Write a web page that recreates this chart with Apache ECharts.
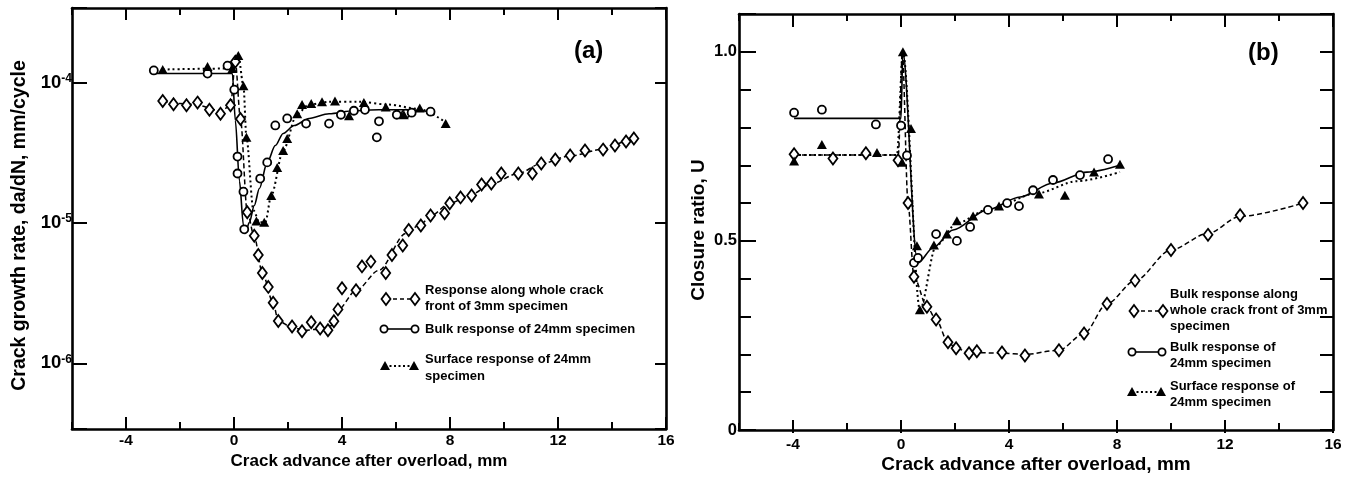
<!DOCTYPE html>
<html>
<head>
<meta charset="utf-8">
<script src="https://cdn.jsdelivr.net/npm/echarts@6/dist/echarts.min.js"></script>
<style>
html,body{margin:0;padding:0;background:#fff;}
#chart{width:1351px;height:479px;}
</style>
</head>
<body>
<div id="chart"></div>
<script>
// ---------- Panel (a): crack growth rate ----------
const a3mmX = [-2.64,-2.24,-1.76,-1.35,-0.91,-0.50,-0.13,0.05,0.24,0.49,0.75,0.90,1.05,1.27,1.45,1.64,2.15,2.52,2.86,3.19,3.48,3.70,3.85,4.00,4.52,4.74,5.07,5.62,5.85,6.25,6.47,6.92,7.28,7.80,7.99,8.39,8.80,9.17,9.53,9.90,10.53,11.05,11.38,11.90,12.45,13.00,13.67,14.11,14.52,14.81];
const a3mmY = [7.4e-5,7.0e-5,6.9e-5,7.2e-5,6.4e-5,6.0e-5,6.9e-5,1.41e-4,5.5e-5,1.19e-5,8.1e-6,5.9e-6,4.4e-6,3.5e-6,2.7e-6,2.0e-6,1.83e-6,1.69e-6,1.96e-6,1.77e-6,1.72e-6,1.99e-6,2.42e-6,3.42e-6,3.31e-6,4.9e-6,5.3e-6,4.4e-6,5.9e-6,6.9e-6,8.9e-6,9.6e-6,1.13e-5,1.17e-5,1.38e-5,1.52e-5,1.57e-5,1.88e-5,1.91e-5,2.25e-5,2.25e-5,2.25e-5,2.65e-5,2.83e-5,3.02e-5,3.28e-5,3.33e-5,3.56e-5,3.80e-5,4.0e-5];
const a3mmFitX = [-2.64,-1.5,-0.5,-0.13,0.05,0.24,0.49,0.75,1.05,1.45,1.64,2.15,2.6,3.2,3.6,3.85,4.52,5.37,6.36,6.92,7.28,7.99,8.80,9.53,10.53,11.38,12.45,13.67,14.52,14.81];
const a3mmFitY = [7.3e-5,7.0e-5,6.3e-5,6.8e-5,1.4e-4,5.5e-5,1.2e-5,8.0e-6,4.4e-6,2.7e-6,2.0e-6,1.8e-6,1.72e-6,1.75e-6,1.85e-6,2.4e-6,3.3e-6,4.6e-6,8.4e-6,9.8e-6,1.12e-5,1.38e-5,1.6e-5,1.9e-5,2.25e-5,2.65e-5,3.0e-5,3.35e-5,3.8e-5,4.0e-5];

const aBulkX = [-2.97,-0.98,-0.24,0.01,0.13,0.13,0.35,0.38,0.97,1.23,1.53,1.97,2.67,3.52,3.96,4.44,4.85,5.29,5.37,6.03,6.36,6.58,7.28];
const aBulkY = [1.22e-4,1.16e-4,1.32e-4,8.9e-5,2.97e-5,2.25e-5,1.67e-5,9.0e-6,2.07e-5,2.70e-5,4.95e-5,5.55e-5,5.1e-5,5.1e-5,5.9e-5,6.3e-5,6.4e-5,4.07e-5,5.3e-5,5.9e-5,6.0e-5,6.1e-5,6.2e-5];
const aBulkFitX = [-2.97,-0.06,0.05,0.20,0.35,0.42,0.57,0.75,0.94,1.23,1.53,1.82,2.23,2.78,3.52,4.44,5.37,6.29,7.28];
const aBulkFitY = [1.16e-4,1.16e-4,5.37e-5,2.0e-5,9.6e-6,8.4e-6,1.01e-5,1.33e-5,1.76e-5,2.70e-5,3.56e-5,4.34e-5,4.94e-5,5.55e-5,6.0e-5,6.3e-5,6.4e-5,6.4e-5,6.2e-5];

const aSurfX = [-2.64,-0.98,-0.06,0.16,0.35,0.46,0.83,1.12,1.38,1.60,1.82,1.97,2.34,2.52,2.86,3.26,3.74,4.26,4.81,5.62,6.29,6.88,7.84];
const aSurfY = [1.24e-4,1.30e-4,1.26e-4,1.56e-4,9.5e-5,4.07e-5,1.03e-5,1.01e-5,1.57e-5,2.48e-5,3.28e-5,4.0e-5,6.0e-5,6.97e-5,7.1e-5,7.3e-5,7.4e-5,5.8e-5,7.2e-5,6.7e-5,5.9e-5,6.6e-5,5.1e-5];
const aSurfFitX = [-2.64,-0.06,0.16,0.35,0.46,0.72,0.94,1.16,1.38,1.82,2.34,2.78,3.52,4.63,5.73,6.84,7.84];
const aSurfFitY = [1.24e-4,1.26e-4,1.56e-4,9.5e-5,4.07e-5,1.23e-5,1.01e-5,1.01e-5,1.57e-5,3.28e-5,6.0e-5,6.97e-5,7.3e-5,7.3e-5,6.97e-5,6.5e-5,5.2e-5];

// ---------- Panel (b): closure ratio ----------
const b3mmX = [-3.96,-2.52,-1.30,-0.11,0.26,0.48,0.96,1.30,1.74,2.04,2.52,2.81,3.74,4.59,5.85,6.78,7.63,8.67,10.00,11.37,12.56,14.89];
const b3mmY = [0.729,0.718,0.732,0.713,0.600,0.405,0.326,0.292,0.232,0.216,0.203,0.208,0.205,0.197,0.211,0.255,0.334,0.395,0.476,0.516,0.568,0.600];
const b3mmFitX = [-3.96,-0.1,0.05,0.26,0.48,0.96,1.30,1.74,2.04,2.52,3.74,4.59,5.85,6.78,7.63,8.67,10.00,11.37,12.56,14.89];
const b3mmFitY = [0.727,0.727,1.0,0.60,0.405,0.326,0.292,0.232,0.216,0.205,0.203,0.200,0.211,0.255,0.334,0.395,0.476,0.520,0.565,0.600];

const bBulkX = [-3.96,-2.93,-0.93,0.00,0.22,0.48,0.63,1.30,2.07,2.56,3.22,3.93,4.37,4.89,5.63,6.63,7.67];
const bBulkY = [0.839,0.847,0.808,0.805,0.726,0.442,0.455,0.518,0.500,0.537,0.582,0.600,0.592,0.634,0.661,0.674,0.716];
const bBulkFitX = [-3.96,0.0,0.07,0.59,0.63,1.19,1.93,3.19,4.41,5.63,6.89,8.11];
const bBulkFitY = [0.824,0.824,1.0,0.455,0.442,0.482,0.529,0.582,0.616,0.653,0.682,0.700];

const bSurfX = [-3.96,-2.93,-0.89,0.04,0.07,0.37,0.59,0.70,1.22,1.70,2.07,2.67,3.63,5.11,6.07,7.15,8.11];
const bSurfY = [0.711,0.755,0.734,0.708,1.0,0.797,0.487,0.318,0.489,0.518,0.553,0.566,0.592,0.624,0.621,0.682,0.703];
const bSurfFitX = [-3.96,-0.15,0.07,0.70,1.30,2.07,3.19,5.04,6.52,8.11];
const bSurfFitY = [0.727,0.727,1.0,0.318,0.487,0.547,0.582,0.626,0.658,0.682];

// ---------- axis / text ----------
const xMin = -6, xMax = 16, xMajorMin = -4;
const aYMin = 3.4e-7, aYMax = 3.4e-4;
const bYMin = 0, bYMax = 1.1;
const xTitle = 'Crack advance after overload, mm';
const aYTitle = 'Crack growth rate, da/dN, mm/cycle';
const bYTitle = 'Closure ratio, U';
const aLegend = ['Response along whole crack\nfront of 3mm specimen', 'Bulk response of 24mm specimen', 'Surface response of 24mm\nspecimen'];
const bLegend = ['Bulk response along\nwhole crack front of 3mm\nspecimen', 'Bulk response of\n24mm specimen', 'Surface response of\n24mm specimen'];

const FONT = 'Liberation Sans';
const zip = (xs, ys) => xs.map((x, i) => [x, ys[i]]);

const frame = {show: true, onZero: false, lineStyle: {color: '#000', width: 2.6}};
function xAx(grid, pos, min, interval, tickLen, labels, extra) {
  return Object.assign({
    type: 'value', gridIndex: grid, position: pos, min: min, max: xMax, interval: interval,
    axisLine: frame,
    axisTick: {show: true, inside: true, length: tickLen, lineStyle: {color: '#000', width: 2}},
    axisLabel: labels ? {show: true, color: '#000', fontFamily: FONT, fontWeight: 'bold', fontSize: 15.5, margin: 4} : {show: false},
    splitLine: {show: false}
  }, extra || {});
}
function logLabel(v) {
  const e = Math.log10(v), r = Math.round(e);
  if (Math.abs(e - r) > 1e-6) return '';
  return '{b|10}{s|' + r + '}';
}

const series = [];
function addSet(xi, yi, fitX, fitY, markX, markY, lineType, lineW, symbol, size, filled) {
  series.push({type: 'line', xAxisIndex: xi, yAxisIndex: yi, data: zip(fitX, fitY), showSymbol: false, smooth: 0.3, smoothMonotone: 'x',
    lineStyle: {color: '#000', width: lineW, type: lineType}, z: 2, silent: true});
  series.push({type: 'scatter', xAxisIndex: xi, yAxisIndex: yi, data: zip(markX, markY), symbol: symbol, symbolSize: size,
    itemStyle: {color: filled ? '#000' : '#fff', borderColor: '#000', borderWidth: filled ? 0 : 1.8, opacity: 1}, z: filled ? 4 : 3, silent: true});
}
addSet(0, 0, a3mmFitX, a3mmFitY, a3mmX, a3mmY, [5, 3], 1.5, 'diamond', [9, 12], false);
addSet(0, 0, aBulkFitX, aBulkFitY, aBulkX, aBulkY, 'solid', 1.6, 'circle', 8, false);
addSet(0, 0, aSurfFitX, aSurfFitY, aSurfX, aSurfY, [2, 3], 2, 'triangle', [10, 9], true);
addSet(4, 3, b3mmFitX, b3mmFitY, b3mmX, b3mmY, [5, 3], 1.5, 'diamond', [9, 12], false);
addSet(4, 3, bBulkFitX, bBulkFitY, bBulkX, bBulkY, 'solid', 1.6, 'circle', 8, false);
addSet(4, 3, bSurfFitX, bSurfFitY, bSurfX, bSurfY, [2, 3], 2, 'triangle', [10, 9], true);

// legend graphics
function legendEntry(kind, x1, x2, y, dash) {
  const els = [{type: 'line', shape: {x1: x1, y1: y, x2: x2, y2: y}, style: {stroke: '#000', lineWidth: kind === 'tri' ? 2 : 1.6, lineDash: dash}, z: 10}];
  [x1, x2].forEach(x => {
    if (kind === 'dia') els.push({type: 'polygon', shape: {points: [[x, y - 6], [x + 4.5, y], [x, y + 6], [x - 4.5, y]]}, style: {fill: '#fff', stroke: '#000', lineWidth: 1.8}, z: 11});
    if (kind === 'cir') els.push({type: 'circle', shape: {cx: x, cy: y, r: 3.6}, style: {fill: '#fff', stroke: '#000', lineWidth: 1.8}, z: 11});
    if (kind === 'tri') els.push({type: 'polygon', shape: {points: [[x, y - 5], [x + 5, y + 4], [x - 5, y + 4]]}, style: {fill: '#000'}, z: 11});
  });
  return els;
}
function txt(text, x, y, size, lh) {
  return {type: 'text', x: x, y: y, z: 12, style: {text: text, fill: '#000', fontFamily: FONT, fontWeight: 'bold', fontSize: size, lineHeight: lh || size, align: 'left', verticalAlign: 'top'}};
}
const graphic = [].concat(
  legendEntry('dia', 386, 415, 299, [4, 3]),
  legendEntry('cir', 384, 415, 329, null),
  legendEntry('tri', 385, 414, 366, [2, 2.5]),
  [txt(aLegend[0], 425, 282, 13, 16), txt(aLegend[1], 425, 321, 13, 16), txt(aLegend[2], 425, 351, 13, 17)],
  legendEntry('dia', 1134, 1163, 311, [4, 3]),
  legendEntry('cir', 1132, 1162, 352, null),
  legendEntry('tri', 1132, 1161, 392, [2, 2.5]),
  [txt(bLegend[0], 1170, 286, 13, 16), txt(bLegend[1], 1170, 339, 13, 16), txt(bLegend[2], 1170, 378, 13, 16)],
  [txt('(a)', 574, 38, 24, 26), txt('(b)', 1248, 40, 24, 26)]
);

const noLine = {axisLine: {show: false, onZero: false}};
const option = {
  backgroundColor: '#fff',
  animation: false,
  grid: [
    {left: 72, top: 8, width: 594, height: 421},
    {left: 126, top: 8, width: 540, height: 421},
    {left: 739, top: 14, width: 594, height: 419},
    {left: 793, top: 14, width: 540, height: 419}
  ],
  xAxis: [
    xAx(0, 'bottom', xMin, 2, 7, false, {name: xTitle, nameLocation: 'middle', nameGap: 24, nameTextStyle: {color: '#000', fontFamily: FONT, fontWeight: 'bold', fontSize: 17}}),
    xAx(0, 'top', xMin, 2, 7, false),
    xAx(1, 'bottom', xMajorMin, 4, 12, true, noLine),
    xAx(1, 'top', xMajorMin, 4, 12, false, noLine),
    xAx(2, 'bottom', xMin, 2, 7, false, {name: xTitle, nameLocation: 'middle', nameGap: 25, nameTextStyle: {color: '#000', fontFamily: FONT, fontWeight: 'bold', fontSize: 19}}),
    xAx(2, 'top', xMin, 2, 7, false),
    xAx(3, 'bottom', xMajorMin, 4, 13, true, noLine),
    xAx(3, 'top', xMajorMin, 4, 13, false, noLine)
  ],
  yAxis: [
    {type: 'log', logBase: 10, gridIndex: 0, position: 'left', min: aYMin, max: aYMax,
      axisLine: frame, splitLine: {show: false},
      axisTick: {show: true, inside: true, length: 15, lineStyle: {color: '#000', width: 2}},
      axisLabel: {show: true, margin: 0, formatter: logLabel,
        rich: {b: {fontFamily: FONT, fontWeight: 'bold', fontSize: 18.5, color: '#000', lineHeight: 20},
               s: {fontFamily: FONT, fontWeight: 'bold', fontSize: 12, color: '#000', lineHeight: 12, verticalAlign: 'top'}}},
      name: aYTitle, nameLocation: 'middle', nameGap: 42, nameRotate: 90,
      nameTextStyle: {color: '#000', fontFamily: FONT, fontWeight: 'bold', fontSize: 19.5, padding: [0, 14, 0, 0]}},
    {type: 'log', logBase: 10, gridIndex: 0, position: 'right', min: aYMin, max: aYMax,
      axisLine: frame, splitLine: {show: false}, axisLabel: {show: false},
      axisTick: {show: true, inside: true, length: 11, lineStyle: {color: '#000', width: 2}}},
    {type: 'value', gridIndex: 1, min: 0, max: 1, show: false},
    {type: 'value', gridIndex: 2, position: 'left', min: bYMin, max: bYMax, interval: 0.1,
      axisLine: frame, splitLine: {show: false}, axisLabel: {show: false},
      axisTick: {show: true, inside: true, length: 12, lineStyle: {color: '#000', width: 2}},
      name: bYTitle, nameLocation: 'middle', nameGap: 31, nameRotate: 90,
      nameTextStyle: {color: '#000', fontFamily: FONT, fontWeight: 'bold', fontSize: 19, padding: [0, 16, 0, 0]}},
    {type: 'value', gridIndex: 2, position: 'right', min: bYMin, max: bYMax, interval: 0.1,
      axisLine: frame, splitLine: {show: false}, axisLabel: {show: false},
      axisTick: {show: true, inside: true, length: 13, lineStyle: {color: '#000', width: 2}}},
    {type: 'value', gridIndex: 2, position: 'left', offset: 0, min: bYMin, max: bYMax, interval: 0.5,
      axisLine: {show: false, onZero: false}, splitLine: {show: false},
      axisTick: {show: true, inside: true, length: 17, lineStyle: {color: '#000', width: 2}},
      axisLabel: {show: true, margin: 2, color: '#000', fontFamily: FONT, fontWeight: 'bold', fontSize: 16.5,
        formatter: v => (Math.abs(v) < 1e-9 ? '0' : (Math.abs(v * 2 - Math.round(v * 2)) < 1e-6 ? v.toFixed(1) : ''))}},
    {type: 'value', gridIndex: 3, min: 0, max: 1, show: false}
  ],
  series: series,
  graphic: graphic
};
const chart = echarts.init(document.getElementById('chart'));
chart.setOption(option);
</script>
</body>
</html>
